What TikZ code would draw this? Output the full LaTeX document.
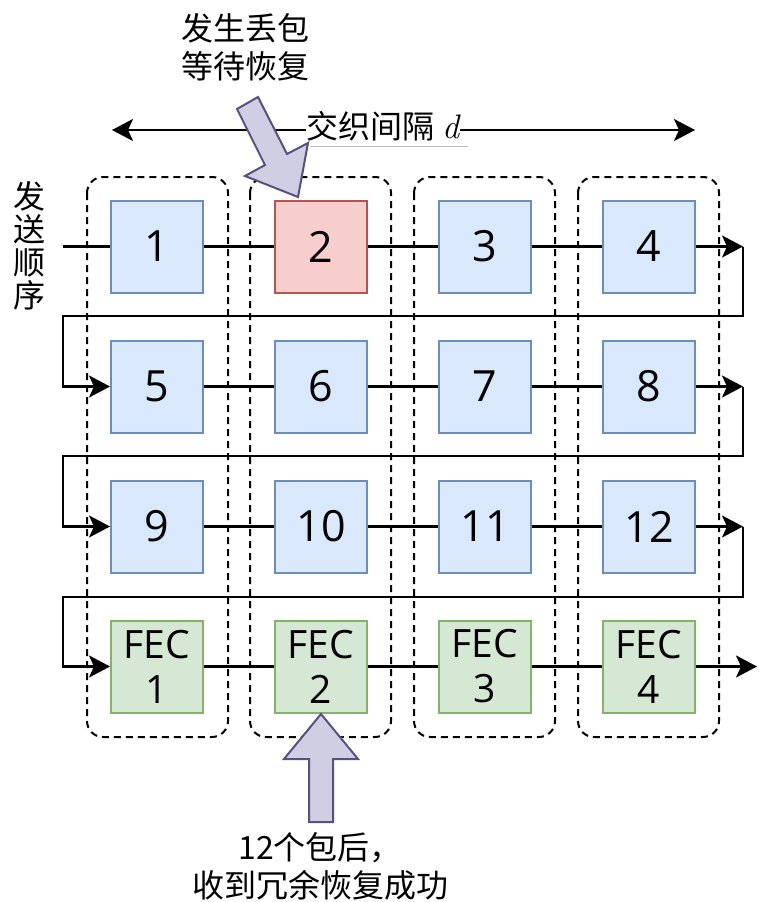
\documentclass[tikz,border=0pt]{standalone}
\usepackage{fontspec}
\setmainfont{Open Sans}
\newfontfamily\cjk{Noto Sans CJK SC}
\newfontfamily\lmr{Latin Modern Roman}
\usetikzlibrary{arrows.meta}
\definecolor{pktfill}{HTML}{DAE8FC}
\definecolor{pktline}{HTML}{6C8EBF}
\definecolor{lostfill}{HTML}{F8CECC}
\definecolor{lostline}{HTML}{B85450}
\definecolor{fecfill}{HTML}{D5E8D4}
\definecolor{fecline}{HTML}{82B366}
\definecolor{hintfill}{HTML}{D0CEE2}
\definecolor{hintline}{HTML}{56517E}
\tikzset{pkt/.style={draw=pktline,fill=pktfill,line width=2pt,minimum size=92pt,inner sep=0pt,
		font=\fontsize{43}{45}\selectfont},
	lost/.style={pkt,draw=lostline,fill=lostfill},
	fec/.style={pkt,draw=fecline,fill=fecfill,align=center,font=\fontsize{39}{45}\selectfont},
	group/.style={draw,line width=2pt,dash pattern=on 7pt off 5pt,rounded corners=16pt},
	flow/.style={draw,line width=2.2pt},
	flowarr/.style={flow,-{Stealth[length=21pt,width=22pt,inset=5pt]}},
	hint/.style={draw=hintline,fill=hintfill,line width=2pt},
	cn/.style={font=\cjk\fontsize{32}{38}\selectfont,align=center,inner sep=1pt}}

\begin{document}
\begin{tikzpicture}[x=1pt,y=-1pt]
\useasboundingbox (0,0) rectangle (758,902);

\draw[group] (87,177) rectangle (228,737);
\draw[group] (250,177) rectangle (391,737);
\draw[group] (414,177) rectangle (555,737);
\draw[group] (578,177) rectangle (719,737);

\node [pkt] (p1) at (157,246.5) {1};
\node [lost] (p2) at (321,246.5) {2};
\node [pkt] (p3) at (485,246.5) {3};
\node [pkt] (p4) at (649,246.5) {4};
\node [pkt] (p5) at (157,386.5) {5};
\node [pkt] (p6) at (321,386.5) {6};
\node [pkt] (p7) at (485,386.5) {7};
\node [pkt] (p8) at (649,386.5) {8};
\node [pkt] (p9) at (157,526.5) {9};
\node [pkt] (p10) at (321,526.5) {10};
\node [pkt] (p11) at (485,526.5) {11};
\node [pkt] (p12) at (649,526.5) {12};
\node [fec] (fec1) at (157,666.5) {FEC\\1};
\node [fec] (fec2) at (321,666.5) {FEC\\2};
\node [fec] (fec3) at (485,666.5) {FEC\\3};
\node [fec] (fec4) at (649,666.5) {FEC\\4};

\coordinate (start) at (63,246.5);
\coordinate (e1) at (743,246.5);
\coordinate (e2) at (743,386.5);
\coordinate (e3) at (743,526.5);
\coordinate (w1) at (63,316);
\coordinate (w2) at (63,456);
\coordinate (w3) at (63,597);
\coordinate (out) at (757,666.5);

\draw[flow] (start) -- (p1);
\draw[flow] (p1) -- (p2);
\draw[flow] (p2) -- (p3);
\draw[flow] (p3) -- (p4);
\draw[flowarr] (p4) -- (e1);
\draw[flowarr] (e1) |- (w1) |- (p5);
\draw[flow] (p5) -- (p6);
\draw[flow] (p6) -- (p7);
\draw[flow] (p7) -- (p8);
\draw[flowarr] (p8) -- (e2);
\draw[flowarr] (e2) |- (w2) |- (p9);
\draw[flow] (p9) -- (p10);
\draw[flow] (p10) -- (p11);
\draw[flow] (p11) -- (p12);
\draw[flowarr] (p12) -- (e3);
\draw[flowarr] (e3) |- (w3) |- (fec1);
\draw[flow] (fec1) -- (fec2);
\draw[flow] (fec2) -- (fec3);
\draw[flow] (fec3) -- (fec4);
\draw[flowarr] (fec4) -- (out);

\node [cn] (gap) at (383,126) {交织间隔 {\lmr\itshape\fontsize{34}{38}\selectfont d}};
\coordinate (dl) at (112,130);
\coordinate (dr) at (695,130);
\draw[flowarr] (gap.west |- dl) -- (dl);
\draw[flowarr] (gap.east |- dr) -- (dr);
\draw[black!25,line width=0.8pt] (310,146) -- (468,146);

\node [cn,font=\cjk\fontsize{32}{33}\selectfont] (order) at (29,246) {发\\送\\顺\\序};
\node [cn] (loss) at (245,47) {发生丢包\\等待恢复};
\node [cn] (done) at (320,866) {12个包后，\\收到冗余恢复成功};

\draw[hint] (237,109) -- (258,97) -- (287,154) -- (308,143) -- (298,197)
	-- (245,176) -- (265,165) -- cycle;
\draw[hint] (309,822) -- (309,759) -- (284,759) -- (321,714) -- (358,759)
	-- (333,759) -- (333,822) -- cycle;
\end{tikzpicture}
\end{document}
